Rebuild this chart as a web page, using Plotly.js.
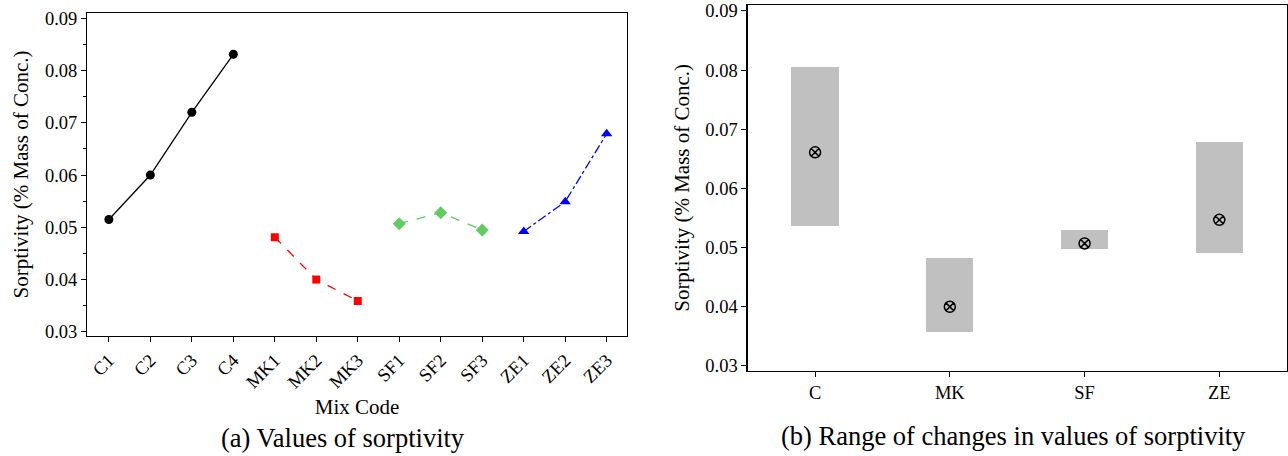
<!DOCTYPE html>
<html>
<head>
<meta charset="utf-8">
<script src="https://cdn.plot.ly/plotly-3.0.1.min.js"></script>
<style>html,body{margin:0;padding:0;background:#fff;}#chart{width:1288px;height:456px;}</style>
</head>
<body>
<div id="chart"></div>
<script>
// Panel (a): sorptivity per mix
const mixC = ['C1', 'C2', 'C3', 'C4'];
const valC = [0.0515, 0.0600, 0.0720, 0.0831];
const mixMK = ['MK1', 'MK2', 'MK3'];
const valMK = [0.0481, 0.0400, 0.0359];
const mixSF = ['SF1', 'SF2', 'SF3'];
const valSF = [0.0507, 0.0528, 0.0495];
const mixZE = ['ZE1', 'ZE2', 'ZE3'];
const valZE = [0.0492, 0.0549, 0.0679];
const allMixes = mixC.concat(mixMK, mixSF, mixZE);

// Panel (b): range of changes
const groups = ['C', 'MK', 'SF', 'ZE'];
const rangeLow = [0.0537, 0.0357, 0.0497, 0.0491];
const rangeHigh = [0.0806, 0.0482, 0.0530, 0.0678];
const centreVal = [0.0661, 0.0400, 0.0507, 0.0547];

const FONT = 'Liberation Serif, Times New Roman, serif';
const W = 1288, H = 456;
const px = v => v / W;
const py = v => 1 - v / H;

const lineSeries = (x, y, color, dash, symbol, size) => ({
  type: 'scatter', mode: 'lines+markers', x: x, y: y,
  xaxis: 'x', yaxis: 'y',
  line: {color: color, dash: dash, width: 1.3},
  marker: {color: color, symbol: symbol, size: size},
  showlegend: false, hoverinfo: 'x+y'
});

const traces = [
  lineSeries(mixC, valC, '#000000', 'solid', 'circle', 9),
  lineSeries(mixMK, valMK, '#ff0000', 'dash', 'square', 8),
  lineSeries(mixSF, valSF, '#62cb62', 'dash', 'diamond', 10),
  lineSeries(mixZE, valZE, '#0000ff', 'dashdot', 'triangle-up', 10),
  {
    type: 'bar', x: groups,
    y: rangeHigh.map((h, i) => h - rangeLow[i]),
    base: rangeLow, width: 0.35,
    xaxis: 'x2', yaxis: 'y2',
    marker: {color: '#c0c0c0', line: {width: 0}},
    showlegend: false, hoverinfo: 'x'
  },
  {
    type: 'scatter', mode: 'markers', x: groups, y: centreVal,
    xaxis: 'x2', yaxis: 'y2',
    marker: {symbol: 'circle-x-open', color: '#000000', size: 11, line: {width: 1.5, color: '#000000'}},
    showlegend: false
  }
];

const axisCommon = {
  showline: true, mirror: true, linecolor: '#000', linewidth: 1.3,
  showgrid: false, zeroline: false, ticks: 'outside', ticklen: 5,
  tickwidth: 1, tickcolor: '#000',
  tickfont: {family: FONT, size: 18.5, color: '#000'}
};

const layout = {
  width: W, height: H,
  margin: {l: 0, r: 0, t: 0, b: 0},
  paper_bgcolor: '#fff', plot_bgcolor: '#fff',
  font: {family: FONT, color: '#000'},
  showlegend: false,
  bargap: 0,
  xaxis: Object.assign({}, axisCommon, {
    domain: [px(87.3), px(627)],
    anchor: 'y',
    type: 'category', categoryorder: 'array', categoryarray: allMixes,
    range: [-0.52, 12.49], tickangle: -45,
    title: {text: 'Mix Code', font: {family: FONT, size: 21}, standoff: 8},
    automargin: false
  }),
  yaxis: Object.assign({}, axisCommon, {
    domain: [py(336), py(13)],
    anchor: 'x',
    range: [0.0292, 0.0910], dtick: 0.01, tickformat: '.2f',
    minor: {dtick: 0.005, ticks: 'outside', ticklen: 3, tickcolor: '#000', showgrid: false},
    title: {text: 'Sorptivity (% Mass of Conc.)', font: {family: FONT, size: 21}, standoff: 10},
    automargin: false
  }),
  xaxis2: Object.assign({}, axisCommon, {
    domain: [px(747.7), px(1286.7)],
    anchor: 'y2',
    type: 'category', categoryorder: 'array', categoryarray: groups,
    range: [-0.5, 3.5],
    automargin: false
  }),
  yaxis2: Object.assign({}, axisCommon, {
    domain: [py(370.7), py(5)],
    anchor: 'x2',
    range: [0.0292, 0.0910], dtick: 0.01, tickformat: '.2f',
    title: {text: 'Sorptivity (% Mass of Conc.)', font: {family: FONT, size: 21}, standoff: 10},
    automargin: false
  }),
  annotations: [
    {text: '(a) Values of sorptivity', xref: 'paper', yref: 'paper',
     x: px(343), y: py(438), xanchor: 'center', yanchor: 'middle', showarrow: false,
     font: {family: FONT, size: 26.5, color: '#000'}},
    {text: '(b) Range of changes in values of sorptivity', xref: 'paper', yref: 'paper',
     x: px(1013), y: py(436), xanchor: 'center', yanchor: 'middle', showarrow: false,
     font: {family: FONT, size: 26.5, color: '#000'}}
  ]
};

Plotly.newPlot('chart', traces, layout, {staticPlot: true, displayModeBar: false});
</script>
</body>
</html>
